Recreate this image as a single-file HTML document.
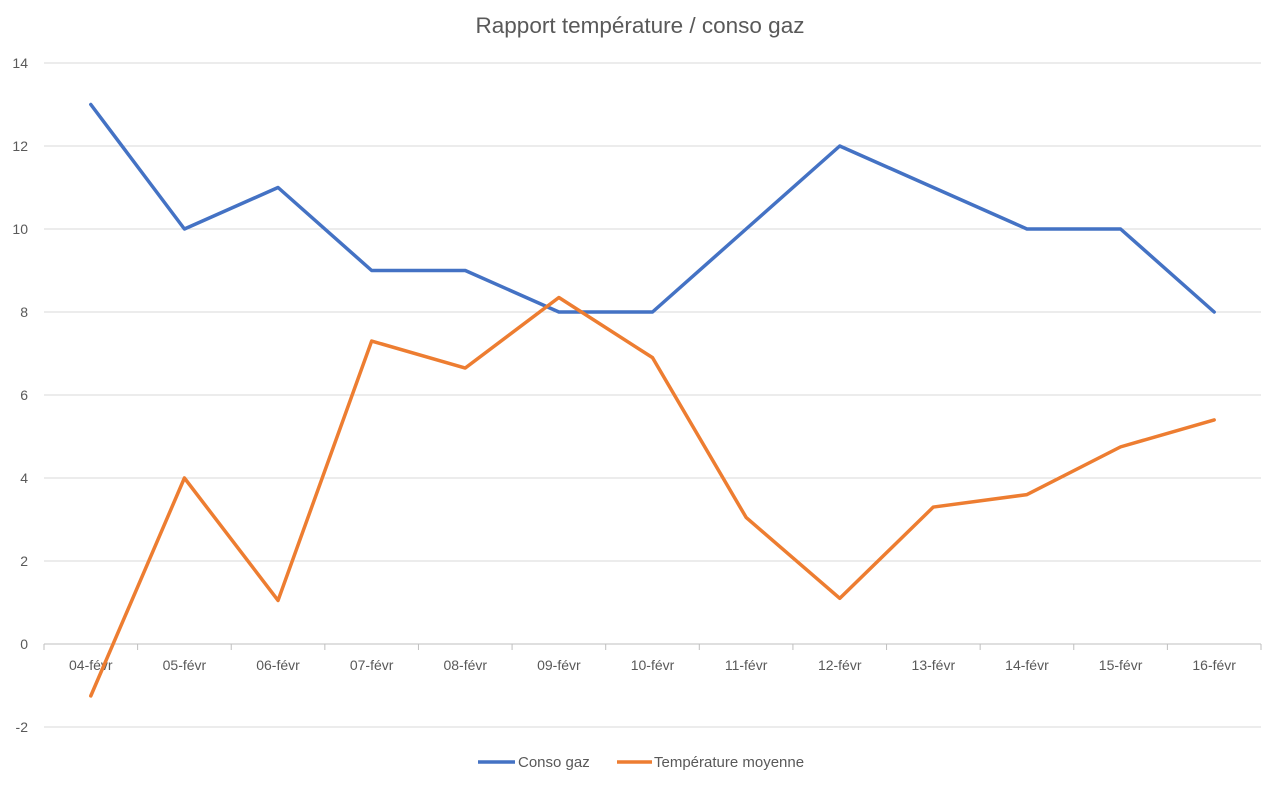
<!DOCTYPE html>
<html><head><meta charset="utf-8"><style>
body{margin:0;background:#fff;}
svg text{font-family:"Liberation Sans",sans-serif;fill:#595959;}
</style></head><body>
<svg id="chart" width="1280" height="788" viewBox="0 0 1280 788" xmlns="http://www.w3.org/2000/svg">
<rect width="1280" height="788" fill="#fff"/>
<text x="640" y="33" font-size="22.5" text-anchor="middle">Rapport température / conso gaz</text>
<g id="grid"></g><g id="yticks"></g><g id="xticks"></g><g id="series"></g>
<g>
<g>
<line x1="478" y1="762" x2="515" y2="762" stroke="#4472C4" stroke-width="3.5"/>
<text x="518" y="767" font-size="15">Conso gaz</text></g>
<g>
<line x1="617" y1="762" x2="652" y2="762" stroke="#ED7D31" stroke-width="3.5"/>
<text x="654" y="767" font-size="15">Température moyenne</text></g>
</g>
</svg>
<script>
const categories=["04-févr","05-févr","06-févr","07-févr","08-févr","09-févr","10-févr","11-févr","12-févr","13-févr","14-févr","15-févr","16-févr"];
const consoGaz=[13,10,11,9,9,8,8,10,12,11,10,10,8];
const tempMoy=[-1.25,4.0,1.05,7.3,6.65,8.35,6.9,3.05,1.1,3.3,3.6,4.75,5.4];
const yTicks=[-2,0,2,4,6,8,10,12,14];
const NS="http://www.w3.org/2000/svg";
const L=44,R=1261,step=(R-L)/categories.length;
const x=i=>L+step*(i+0.5);
const y=v=>644-v*41.5;
function mk(t,a,p){const e=document.createElementNS(NS,t);for(const k in a)e.setAttribute(k,a[k]);p.appendChild(e);return e;}
const grid=document.getElementById('grid'),yt=document.getElementById('yticks'),xt=document.getElementById('xticks'),se=document.getElementById('series');
yTicks.forEach(v=>{
 const g=mk('line',{x1:L,x2:R,y1:y(v),y2:y(v),stroke:v===0?'#bfbfbf':'#d9d9d9','stroke-width':1},grid);
 
 
 const t=mk('text',{x:28,y:y(v)+5,'font-size':14,'text-anchor':'end'},yt);t.textContent=v;
 
 
});
categories.forEach((c,i)=>{
 const tk=mk('line',{x1:L+step*i,x2:L+step*i,y1:y(0),y2:y(0)+6,stroke:'#bfbfbf'},xt);
 
 
 const t=mk('text',{x:x(i),y:670,'font-size':14,'text-anchor':'middle'},xt);t.textContent=c;
 
 
});
const last=mk('line',{x1:R,x2:R,y1:y(0),y2:y(0)+6,stroke:'#bfbfbf'},xt);


function line(vals,color,name){
 const p=mk('polyline',{points:vals.map((v,i)=>x(i)+','+y(v)).join(' '),fill:'none',stroke:color,'stroke-width':3.5,'stroke-linejoin':'round','stroke-linecap':'round'},se);
 
 
}
line(consoGaz,'#4472C4','series-conso-gaz');
line(tempMoy,'#ED7D31','series-temperature-moyenne');
</script>
</body></html>
